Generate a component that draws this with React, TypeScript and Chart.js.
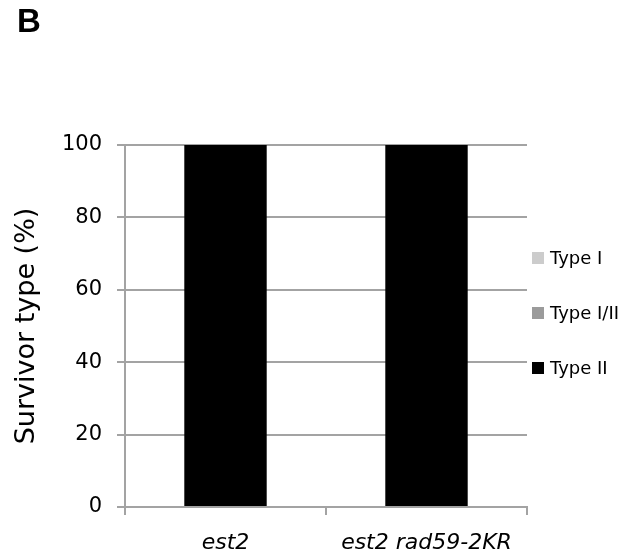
import React, { useEffect, useRef } from "react";
import { Chart, registerables } from "chart.js";

Chart.register(...registerables);

// ---- data ----
const categories = ["est2", "est2 rad59-2KR"];
const seriesNames = ["Type I", "Type I/II", "Type II"];
const typeI = [0, 0];
const typeIII = [0, 0];
const typeII = [100, 100];
const seriesColors = ["#cccccc", "#9b9b9b", "#000000"];
const yTicks = [0, 20, 40, 60, 80, 100];
const panelLabel = "B";
const yTitle = "Survivor type (%)";

const FONT = "'DejaVu Sans', sans-serif";
const GRID = "#a3a3a3";
const GRID_W = 2;

const sideLegend = {
  id: "sideLegend",
  afterDraw(chart: any) {
    const { ctx, chartArea } = chart;
    const ds = chart.data.datasets;
    const gap = 55;
    const cy = (chartArea.top + chartArea.bottom) / 2 - 13;
    ctx.save();
    ctx.font = `18px ${FONT}`;
    ctx.textBaseline = "middle";
    ctx.textAlign = "left";
    ds.forEach((d: any, i: number) => {
      const y = cy + (i - (ds.length - 1) / 2) * gap;
      const x = chartArea.right + 5;
      ctx.fillStyle = d.backgroundColor;
      ctx.fillRect(x, y - 6, 12, 12);
      ctx.fillStyle = "#000";
      ctx.fillText(d.label, x + 18, y + 1);
    });
    ctx.restore();
  },
};

export default function App() {
  const ref = useRef<HTMLCanvasElement | null>(null);
  useEffect(() => {
    if (!ref.current) return;
    const values = [typeI, typeIII, typeII];
    const chart = new Chart(ref.current, {
      type: "bar",
      data: {
        labels: categories,
        datasets: seriesNames.map((name, i) => ({
          label: name,
          data: values[i],
          backgroundColor: seriesColors[i],
          borderWidth: 0,
          categoryPercentage: 1,
          barPercentage: 0.41,
        })),
      },
      options: {
        animation: false,
        responsive: true,
        maintainAspectRatio: false,
        layout: { padding: { left: 17, right: 101, top: 0, bottom: 0 } },
        plugins: {
          legend: { display: false },
          tooltip: { enabled: false },
          title: {
            display: true,
            text: panelLabel,
            align: "start",
            color: "#000",
            font: { family: "'Liberation Sans', Arial, sans-serif", size: 33, weight: "bold", lineHeight: 1.2 },
            padding: { top: 3, bottom: 102.4 },
          },
        },
        scales: {
          x: {
            stacked: true,
            grid: { offset: true, drawOnChartArea: false, drawTicks: true, tickLength: 8, color: GRID, lineWidth: GRID_W },
            border: { display: true, color: GRID, width: GRID_W },
            ticks: { color: "#000", font: { family: FONT, size: 22, style: "italic" }, padding: 15, maxRotation: 0 },
            afterFit(s: any) { s.height = 52; },
          },
          y: {
            stacked: true,
            min: 0,
            max: 100,
            grid: { color: GRID, tickLength: 8, drawTicks: true, lineWidth: GRID_W },
            border: { display: true, color: GRID, width: GRID_W },
            ticks: { color: "#000", font: { family: FONT, size: 21 }, padding: 15 },
            afterBuildTicks(axis: any) { axis.ticks = yTicks.map((v) => ({ value: v })); },
            title: {
              display: true,
              text: yTitle,
              color: "#000",
              font: { family: FONT, size: 27, lineHeight: 0.7 },
              padding: { top: 1, bottom: 0 },
            },
            afterFit(s: any) { s.width = 108; },
          },
        },
      },
      plugins: [sideLegend],
    });
    return () => chart.destroy();
  }, []);
  return (
    <div style={{ position: "absolute", left: 0, top: 0, width: 628, height: 559, background: "#fff" }}>
      <canvas ref={ref} />
    </div>
  );
}
